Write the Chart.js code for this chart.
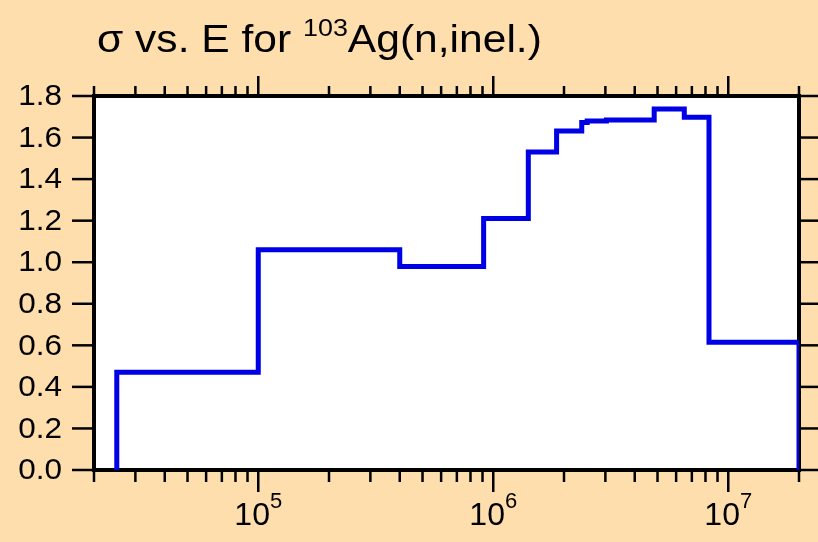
<!DOCTYPE html>
<html>
<head>
<meta charset="utf-8">
<script src="https://cdn.jsdelivr.net/npm/chart.js@4.4.1/dist/chart.umd.min.js"></script>
<style>
  html, body { margin: 0; padding: 0; background: #ffdead; }
  #contenedor { position: relative; width: 818px; height: 542px; }
  #titulo {
    position: absolute; left: 97px; top: 19px;
    font-family: "Liberation Sans", Arial, sans-serif; font-size: 38px; line-height: 40px;
    white-space: nowrap; color: #000;
    transform: scaleX(1.12); transform-origin: left top;
  }
  #titulo sup { font-size: 24px; line-height: 0; vertical-align: 16px; }
</style>
</head>
<body>
<div id="contenedor">
  <canvas id="grafica" width="818" height="542"></canvas>
  <div id="titulo">σ vs. E for <sup>103</sup>Ag(n,inel.)</div>
</div>
<script>
// Datos (energia en eV, seccion eficaz en barn)
const energias = [2.5e4, 2.5e4, 1e5, 4e5, 9.1e5, 1.41e6, 1.86e6, 2.38e6, 2.51e6, 3.03e6, 4.84e6, 6.5e6, 8.28e6, 2e7];
const secciones = [0, 0.47, 1.06, 0.98, 1.21, 1.53, 1.632, 1.673, 1.68, 1.685, 1.737, 1.698, 0.615, 0];

// Marcas del eje x
const decadas = [1e5, 1e6, 1e7];
const exponentes = ["5", "6", "7"];
const ticksMenores = [
  2e4, 3e4, 4e4, 5e4, 6e4, 7e4, 8e4, 9e4,
  2e5, 3e5, 4e5, 5e5, 6e5, 7e5, 8e5, 9e5,
  2e6, 3e6, 4e6, 5e6, 6e6, 7e6, 8e6, 9e6,
  2e7
];

const fuente = '"Liberation Sans", Arial, sans-serif';

// texto estirado en horizontal como en la imagen original
function textoEstirado(ctx, txt, x, y, sx) {
  ctx.save();
  ctx.translate(x, y);
  ctx.scale(sx, 1);
  ctx.fillText(txt, 0, 0);
  ctx.restore();
}

function linea(ctx, x1, y1, x2, y2) {
  ctx.beginPath();
  ctx.moveTo(x1, y1);
  ctx.lineTo(x2, y2);
  ctx.stroke();
}

// Fondo blanco, marco negro, marcas y etiquetas
const marco = {
  id: "marco",
  beforeDraw(chart) {
    const { ctx, chartArea: a } = chart;
    ctx.save();
    ctx.fillStyle = "#ffffff";
    ctx.fillRect(a.left, a.top, a.right - a.left, a.bottom - a.top);
    ctx.restore();
  },
  beforeDatasetsDraw(chart) {
    const { ctx, chartArea: a } = chart;
    const x = chart.scales.x;
    const y = chart.scales.y;
    ctx.save();
    ctx.strokeStyle = "#000";
    ctx.lineWidth = 2.5;

    // marcas x arriba y abajo
    decadas.forEach((v) => {
      const px = x.getPixelForValue(v);
      linea(ctx, px, a.bottom, px, a.bottom + 22);
      linea(ctx, px, a.top, px, a.top - 20);
    });
    ticksMenores.forEach((v) => {
      const px = x.getPixelForValue(v);
      linea(ctx, px, a.bottom, px, a.bottom + 12);
      linea(ctx, px, a.top, px, a.top - 10);
    });

    // marcas y a los dos lados
    y.ticks.forEach((t) => {
      const py = y.getPixelForValue(t.value);
      linea(ctx, a.left - 22, py, a.left, py);
      linea(ctx, a.right, py, a.right + 20, py);
    });

    ctx.lineWidth = 4;
    ctx.strokeRect(a.left, a.top, a.right - a.left, a.bottom - a.top);
    ctx.restore();
  },
  afterDraw(chart) {
    const { ctx } = chart;
    const x = chart.scales.x;
    const y = chart.scales.y;
    ctx.save();
    ctx.fillStyle = "#000";

    // etiquetas y
    ctx.font = "30px " + fuente;
    ctx.textAlign = "right";
    ctx.textBaseline = "middle";
    y.ticks.forEach((t) => {
      const py = y.getPixelForValue(t.value);
      textoEstirado(ctx, t.value.toFixed(1), 62, py + 1, 1.05);
    });

    // etiquetas x: 10 con exponente
    ctx.textAlign = "left";
    ctx.textBaseline = "alphabetic";
    decadas.forEach((v, i) => {
      const px = x.getPixelForValue(v);
      ctx.font = "32px " + fuente;
      const w10 = ctx.measureText("10").width;
      ctx.font = "22px " + fuente;
      const wExp = ctx.measureText(exponentes[i]).width;
      const inicio = px - (w10 + wExp) / 2;
      ctx.font = "32px " + fuente;
      textoEstirado(ctx, "10", inicio, 525, 1);
      ctx.font = "22px " + fuente;
      textoEstirado(ctx, exponentes[i], inicio + w10, 508, 1);
    });
    ctx.restore();
  }
};

function crearGrafica() {
  const puntos = energias.map((e, i) => ({ x: e, y: secciones[i] }));

  new Chart(document.getElementById("grafica"), {
    type: "line",
    data: {
      datasets: [
        {
          label: "sigma",
          data: puntos,
          stepped: "before", // horizontal primero, luego el salto
          borderColor: "#0000e6",
          borderWidth: 5,
          pointRadius: 0,
          fill: false,
        },
      ],
    },
    options: {
      responsive: false,
      devicePixelRatio: 1,
      animation: false,
      events: [],
      layout: { padding: { top: 96, right: 19, left: 0, bottom: 0 } },
      scales: {
        x: {
          type: "logarithmic",
          min: 2e4,
          max: 2e7,
          grid: { display: false, drawTicks: false },
          border: { display: false },
          ticks: { display: false },
          afterFit: (s) => { s.height = 72; },
        },
        y: {
          min: 0,
          max: 1.8,
          ticks: { display: false, stepSize: 0.2 },
          grid: { display: false, drawTicks: false },
          border: { display: false },
          afterFit: (s) => { s.width = 94; },
        },
      },
      plugins: {
        legend: { display: false },
        title: { display: false },
        tooltip: { enabled: false },
      },
    },
    plugins: [marco],
  });
}

window.onload = crearGrafica;
</script>
</body>
</html>
